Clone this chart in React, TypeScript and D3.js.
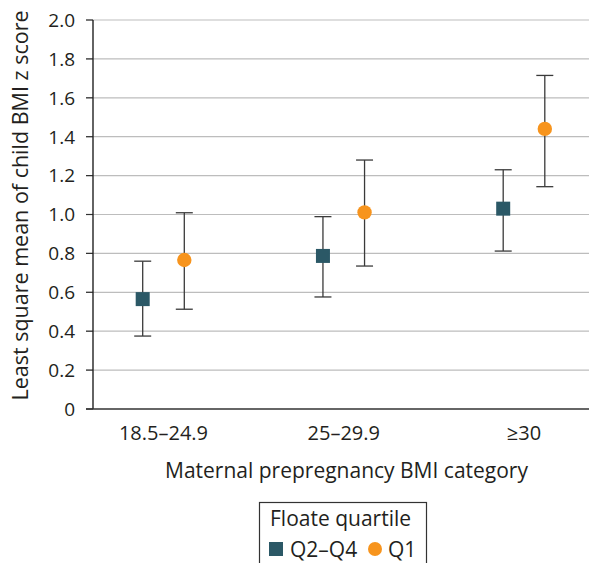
import React from "react";
import * as d3 from "d3";

const categories = ["18.5–24.9", "25–29.9", "≥30"];
const seriesNames = ["Q2–Q4", "Q1"];
const q24Mean = [0.565, 0.787, 1.03];
const q24Low = [0.375, 0.576, 0.812];
const q24High = [0.76, 0.989, 1.23];
const q1Mean = [0.766, 1.011, 1.44];
const q1Low = [0.513, 0.735, 1.143];
const q1High = [1.009, 1.28, 1.715];
const yTicks = [0, 0.2, 0.4, 0.6, 0.8, 1.0, 1.2, 1.4, 1.6, 1.8, 2.0];

const W = 589;
const H = 563;
const FONT = "'Open Sans', 'Noto Sans', sans-serif";
const TEXT = "#231f20";
const C_SQ = "#2b5866";
const C_CI = "#f7941d";

export default function App() {
  const y = d3.scaleLinear().domain([0, 2]).range([409, 20]);
  const x = d3.scalePoint<string>().domain(categories).range([163.5, 524]).padding(0);
  const off = 20.8;
  const axisX = 93;
  const capW = 17;

  const series = [
    { name: seriesNames[0], mean: q24Mean, low: q24Low, high: q24High, dx: -off, color: C_SQ, shape: "square" },
    { name: seriesNames[1], mean: q1Mean, low: q1Low, high: q1High, dx: off, color: C_CI, shape: "circle" },
  ];

  return (
    <svg width={W} height={H} style={{ position: "absolute", left: 0, top: 0 }} fontFamily={FONT}>
      <rect width={W} height={H} fill="#fff" />
      {yTicks.map((t) => (
        <g key={t}>
          {t > 0 && <line x1={86} x2={W} y1={y(t)} y2={y(t)} stroke="#bdbdbd" strokeWidth={1.2} />}
          <line x1={86} x2={axisX} y1={y(t)} y2={y(t)} stroke="#333" strokeWidth={1.2} />
          <text x={75} y={y(t)} dy="0.36em" textAnchor="end" fontSize={19} fill={TEXT}>
            {t === 0 ? "0" : t.toFixed(1)}
          </text>
        </g>
      ))}
      <line x1={axisX} x2={axisX} y1={y(2)} y2={y(0)} stroke="#222" strokeWidth={1.4} />
      <line x1={86} x2={W} y1={y(0)} y2={y(0)} stroke="#333" strokeWidth={1.4} />
      {series.map((s) =>
        categories.map((c, i) => {
          const cx = (x(c) as number) + s.dx;
          return (
            <g key={s.name + c}>
              <line x1={cx} x2={cx} y1={y(s.high[i])} y2={y(s.low[i])} stroke="#3a3a3a" strokeWidth={1.3} />
              <line x1={cx - capW / 2} x2={cx + capW / 2} y1={y(s.high[i])} y2={y(s.high[i])} stroke="#3a3a3a" strokeWidth={1.3} />
              <line x1={cx - capW / 2} x2={cx + capW / 2} y1={y(s.low[i])} y2={y(s.low[i])} stroke="#3a3a3a" strokeWidth={1.3} />
              {s.shape === "square" ? (
                <rect x={cx - 7} y={y(s.mean[i]) - 7} width={14} height={14} fill={s.color} />
              ) : (
                <circle cx={cx} cy={y(s.mean[i])} r={7.2} fill={s.color} />
              )}
            </g>
          );
        })
      )}
      {categories.map((c) => (
        <text key={c} x={x(c) as number} y={440} textAnchor="middle" fontSize={20} fill={TEXT}>
          {c}
        </text>
      ))}
      <text
        transform={`translate(28, ${(6 + 405) / 2}) rotate(-90)`}
        textAnchor="middle"
        fontSize={21.5}
        fill={TEXT}
      >
        Least square mean of child BMI z score
      </text>
      <text x={346.5} y={478} textAnchor="middle" fontSize={21} fill={TEXT}>
        Maternal prepregnancy BMI category
      </text>
      <rect x={259.5} y={502.5} width={167} height={80} fill="none" stroke="#333" strokeWidth={1.2} />
      <text x={270} y={526} fontSize={21} fill={TEXT}>Floate quartile</text>
      <rect x={269} y={542} width={14} height={14} fill={C_SQ} />
      <text x={290} y={556.5} fontSize={21} fill={TEXT}>{seriesNames[0]}</text>
      <circle cx={375} cy={549} r={7} fill={C_CI} />
      <text x={388} y={556.5} fontSize={21} fill={TEXT}>{seriesNames[1]}</text>
    </svg>
  );
}
